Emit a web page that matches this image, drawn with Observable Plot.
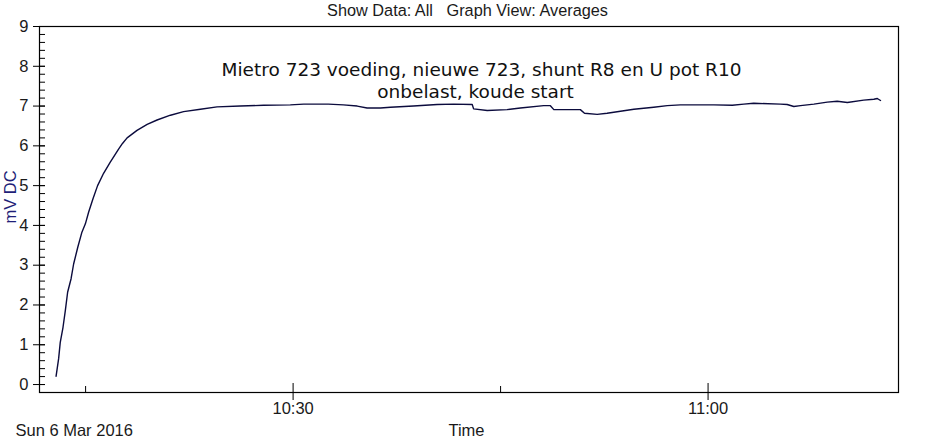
<!DOCTYPE html>
<html>
<head>
<meta charset="utf-8">
<script src="https://cdn.jsdelivr.net/npm/d3@7"></script>
<script src="https://cdn.jsdelivr.net/npm/@observablehq/plot@0.6"></script>
<style>
  html, body { margin: 0; padding: 0; background: white; }
  #chart svg { display: block; }
</style>
</head>
<body>
<div id="chart"></div>
<script>
// ---- data ----
const day = [2016, 2, 6]; // Sun 6 Mar 2016
const times = [
  "10:12:52","10:13:03","10:13:10","10:13:22","10:13:32","10:13:42","10:13:57","10:14:08",
  "10:14:26","10:14:44","10:14:59","10:15:13","10:15:32","10:15:52","10:16:18","10:16:47",
  "10:17:23","10:17:40","10:18:00","10:18:43","10:19:27","10:20:10","10:21:08","10:22:05","10:23:18",
  "10:24:30","10:26:11","10:27:52","10:29:48","10:30:46","10:32:33","10:33:38","10:34:38",
  "10:35:21","10:36:19","10:37:02","10:38:42","10:40:25","10:41:37","10:42:57","10:43:03",
  "10:44:02","10:45:28","10:46:26","10:48:07","10:48:36","10:48:51","10:50:46","10:51:04",
  "10:51:59","10:52:42","10:53:40","10:54:38","10:56:04","10:57:03","10:58:00","11:00:25",
  "11:01:45","11:02:35","11:03:18","11:05:14","11:05:43","11:06:12","11:06:41","11:07:39",
  "11:08:37","11:09:20","11:10:04","11:11:15","11:11:59","11:12:14","11:12:28"
];
const values = [
  0.21,0.65,1.06,1.44,1.86,2.32,2.66,3.03,
  3.45,3.83,4.04,4.33,4.67,5.00,5.31,5.59,
  5.92,6.06,6.20,6.39,6.54,6.65,6.77,6.86,6.92,
  6.98,7.00,7.02,7.03,7.05,7.05,7.03,7.00,
  6.95,6.95,6.97,7.00,7.04,7.05,7.04,6.93,
  6.89,6.91,6.95,7.01,7.01,6.91,6.91,6.82,
  6.79,6.82,6.87,6.92,6.97,7.01,7.03,7.03,
  7.02,7.05,7.07,7.05,7.04,6.99,7.01,7.05,
  7.10,7.12,7.09,7.15,7.17,7.19,7.14
];
const xDomainTimes = ["10:11:40", "11:13:46"];
const yDomain = [-0.2, 9];
const yMajorTicks = [0, 1, 2, 3, 4, 5, 6, 7, 8, 9];
const yMinorStep = 0.2;
const xMajorTicks = ["10:30:00", "11:00:00"];
const xMinorTicks = ["10:15:00", "10:45:00"];

const headerText = "Show Data: All   Graph View: Averages";
const titleLine1 = "Mietro 723 voeding, nieuwe 723, shunt R8 en U pot R10";
const titleLine2 = "onbelast, koude start";
const dateLabel = "Sun 6 Mar 2016";
const xLabel = "Time";
const yLabel = "mV DC";

// ---- helpers ----
const toDate = s => {
  const [h, m, sec] = s.split(":").map(Number);
  return new Date(Date.UTC(day[0], day[1], day[2], h, m, sec));
};
const data = times.map((t, i) => ({time: toDate(t), value: values[i]}));
const yMinor = d3.range(Math.round(yDomain[0] / yMinorStep) + 1, Math.round(yDomain[1] / yMinorStep))
  .map(k => +(k * yMinorStep).toFixed(1));

const lineColor = "#0b0b3d";
const navy = "#1f1f78";
const textColor = "#1a1a1a";
const uiFont = "'Liberation Sans', Arial, sans-serif";
const titleFont = "'DejaVu Sans', Verdana, sans-serif";

const chart = Plot.plot({
  width: 932,
  height: 439,
  marginTop: 26,
  marginBottom: 47,
  marginLeft: 39,
  marginRight: 34,
  style: {fontFamily: uiFont, fontSize: "16px", color: textColor, background: "white"},
  x: {type: "utc", domain: xDomainTimes.map(toDate), axis: null},
  y: {domain: yDomain, axis: null},
  marks: [
    // y axis: major ticks outside with labels, minor ticks inside
    Plot.axisY(yMajorTicks, {anchor: "left", tickSize: 6, tickPadding: 5, label: null, fontSize: 16.5, stroke: "black"}),
    Plot.axisY(yMinor, {anchor: "left", tickSize: -6, tickFormat: () => "", label: null, stroke: "black"}),
    Plot.axisY(yMajorTicks, {anchor: "left", tickSize: -6, tickFormat: () => "", label: null, stroke: "black"}),
    // x axis
    Plot.axisX(xMajorTicks.map(toDate), {anchor: "bottom", tickSize: 8, tickPadding: 2, tickFormat: d3.utcFormat("%H:%M"), label: null, fontSize: 16.5, stroke: "black"}),
    Plot.axisX(xMajorTicks.map(toDate), {anchor: "bottom", tickSize: -9, tickFormat: () => "", label: null, stroke: "black"}),
    Plot.axisX(xMinorTicks.map(toDate), {anchor: "bottom", tickSize: -6, tickFormat: () => "", label: null, stroke: "black"}),
    Plot.frame({stroke: "black", strokeWidth: 1.2}),
    // data
    Plot.line(data, {x: "time", y: "value", stroke: lineColor, strokeWidth: 1.4}),
    // texts
    Plot.text([headerText], {text: d => d, frameAnchor: "top", dx: -1.5, dy: -16, lineAnchor: "middle", fontSize: 16.3, fill: textColor}),
    Plot.text([titleLine1], {text: d => d, frameAnchor: "top", dx: 12.5, dy: 44, lineAnchor: "middle", fontSize: 18.5, fontFamily: titleFont, fill: "#111"}),
    Plot.text([titleLine2], {text: d => d, frameAnchor: "top", dx: 6.5, dy: 66, lineAnchor: "middle", fontSize: 18.5, fontFamily: titleFont, fill: "#111"}),
    Plot.text([dateLabel], {text: d => d, frameAnchor: "bottom-left", dx: -24, dy: 38, textAnchor: "start", lineAnchor: "middle", fontSize: 16.5, fill: textColor}),
    Plot.text([xLabel], {text: d => d, frameAnchor: "bottom", dx: -2.5, dy: 38, lineAnchor: "middle", fontSize: 16.5, fill: textColor}),
    Plot.text([yLabel], {text: d => d, frameAnchor: "left", dx: -29, dy: 14, rotate: -90, lineAnchor: "middle", fontSize: 16.5, fill: navy})
  ]
});
document.getElementById("chart").appendChild(chart);
</script>
</body>
</html>
